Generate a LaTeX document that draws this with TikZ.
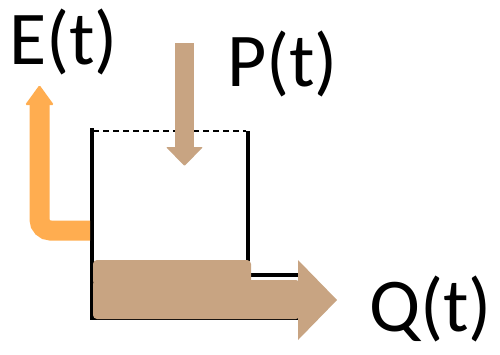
\documentclass[tikz,border=0pt]{standalone}
\usepackage{fontspec}
\setmainfont{Carlito}
\definecolor{tan}{RGB}{200,164,130}
\definecolor{evap}{RGB}{255,173,80}
\tikzset{
  lbl/.style={anchor=base west,inner sep=0pt,font=\fontsize{76}{76}\selectfont},
  wall/.style={line width=4pt,black},
}
\begin{document}
\begin{tikzpicture}[x=1pt,y=-1pt]
\useasboundingbox (0,0) rectangle (500,354);
% labels
\node[lbl] (E) at (9,64) {E(t)};
\node[lbl] (P) at (227,86) {P(t)};
\node[lbl] (Q) at (369,331) {Q(t)};
% bucket
\draw[wall] (91.5,128) -- (91.5,318) -- (298,318);
\draw[wall] (248,131) -- (248,275) -- (298,275);
\draw[line width=1.3pt,dash pattern=on 6pt off 4pt] (93,131) -- (246,131);
% precipitation arrow
\fill[tan] (175,43) rectangle (194,147);
\fill[tan,rounded corners=1pt] (166,147) -- (203,147) -- (184.5,166) -- cycle;
% evaporation arrow
\draw[evap,line width=20pt,rounded corners=11pt] (90,230.5) -- (39.5,230.5) -- (39.5,104);
\fill[evap,rounded corners=1.5pt] (25,105) -- (39.5,85) -- (54,105) -- cycle;
% storage and discharge
\fill[tan,rounded corners=4pt] (93,260) rectangle (251,285);
\fill[tan,rounded corners=4pt] (93,280) rectangle (300,319);
\fill[tan] (298,260) -- (337,300) -- (298,340) -- cycle;
\end{tikzpicture}
\end{document}
